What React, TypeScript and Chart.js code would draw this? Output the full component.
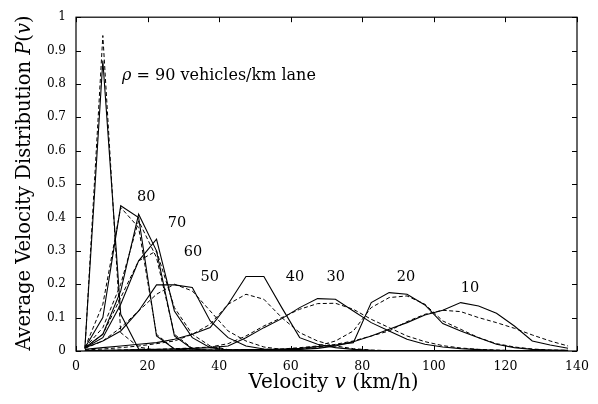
import React, { useEffect, useRef } from "react";
import { Chart, registerables } from "chart.js";

Chart.register(...registerables);

// Velocity bin centres (km/h)
const VELOCITY = [2.5, 7.5, 12.5, 17.5, 22.5, 27.5, 32.5, 37.5, 42.5, 47.5, 52.5, 57.5, 62.5, 67.5,
  72.5, 77.5, 82.5, 87.5, 92.5, 97.5, 102.5, 107.5, 112.5, 117.5, 122.5, 127.5, 132.5, 137.5];

// Solid curves (one per density, vehicles/km lane)
const S90 = [0.012, 0.87, 0.11, 0.006, 0.002, 0.001, 0, 0, 0, 0, 0, 0, 0, 0, 0, 0, 0, 0, 0, 0, 0, 0, 0, 0, 0, 0, 0, 0];
const S80 = [0.01, 0.1, 0.435, 0.4, 0.045, 0.006, 0.001, 0, 0, 0, 0, 0, 0, 0, 0, 0, 0, 0, 0, 0, 0, 0, 0, 0, 0, 0, 0, 0];
const S70 = [0.01, 0.05, 0.18, 0.41, 0.3, 0.045, 0.006, 0.001, 0, 0, 0, 0, 0, 0, 0, 0, 0, 0, 0, 0, 0, 0, 0, 0, 0, 0, 0, 0];
const S60 = [0.01, 0.04, 0.14, 0.27, 0.335, 0.12, 0.04, 0.01, 0.003, 0.001, 0, 0, 0, 0, 0, 0, 0, 0, 0, 0, 0, 0, 0, 0, 0, 0, 0, 0];
const S50 = [0.01, 0.03, 0.06, 0.12, 0.198, 0.198, 0.19, 0.09, 0.04, 0.015, 0.006, 0.002, 0.001, 0, 0, 0, 0, 0, 0, 0, 0, 0, 0, 0, 0, 0, 0, 0];
const S40 = [0.005, 0.01, 0.015, 0.02, 0.025, 0.035, 0.05, 0.07, 0.14, 0.223, 0.223, 0.13, 0.04, 0.02, 0.01, 0.005, 0.002, 0.001, 0, 0, 0, 0, 0, 0, 0, 0, 0, 0];
const S30 = [0.001, 0.002, 0.003, 0.004, 0.005, 0.006, 0.008, 0.01, 0.015, 0.04, 0.07, 0.097, 0.13, 0.157, 0.155, 0.12, 0.085, 0.06, 0.035, 0.02, 0.012, 0.007, 0.004, 0.002, 0.001, 0, 0, 0];
const S20 = [0.001, 0.001, 0.001, 0.002, 0.002, 0.002, 0.003, 0.003, 0.003, 0.004, 0.004, 0.006, 0.008, 0.013, 0.018, 0.025, 0.145, 0.175, 0.17, 0.138, 0.082, 0.06, 0.04, 0.02, 0.01, 0.005, 0.003, 0.002];
const S10 = [0.001, 0.001, 0.001, 0.001, 0.001, 0.002, 0.002, 0.002, 0.002, 0.003, 0.003, 0.004, 0.005, 0.008, 0.015, 0.028, 0.045, 0.065, 0.085, 0.108, 0.122, 0.145, 0.135, 0.113, 0.075, 0.03, 0.018, 0.008];

// Dashed curves
const D90 = [0.006, 0.945, 0.055, 0.012, 0.002, 0.001, 0, 0, 0, 0, 0, 0, 0, 0, 0, 0, 0, 0, 0, 0, 0, 0, 0, 0, 0, 0, 0, 0];
const D80 = [0.01, 0.14, 0.43, 0.37, 0.05, 0.006, 0.001, 0, 0, 0, 0, 0, 0, 0, 0, 0, 0, 0, 0, 0, 0, 0, 0, 0, 0, 0, 0, 0];
const D70 = [0.01, 0.07, 0.2, 0.39, 0.28, 0.05, 0.008, 0.001, 0, 0, 0, 0, 0, 0, 0, 0, 0, 0, 0, 0, 0, 0, 0, 0, 0, 0, 0, 0];
const D60 = [0.01, 0.05, 0.16, 0.27, 0.3, 0.13, 0.05, 0.015, 0.004, 0.001, 0, 0, 0, 0, 0, 0, 0, 0, 0, 0, 0, 0, 0, 0, 0, 0, 0, 0];
const D50 = [0.008, 0.03, 0.07, 0.12, 0.17, 0.2, 0.18, 0.12, 0.06, 0.03, 0.012, 0.005, 0.002, 0.001, 0, 0, 0, 0, 0, 0, 0, 0, 0, 0, 0, 0, 0, 0];
const D40 = [0.003, 0.006, 0.01, 0.015, 0.022, 0.03, 0.05, 0.08, 0.14, 0.17, 0.155, 0.1, 0.055, 0.03, 0.015, 0.007, 0.003, 0.001, 0, 0, 0, 0, 0, 0, 0, 0, 0, 0];
const D30 = [0.001, 0.002, 0.003, 0.004, 0.005, 0.007, 0.009, 0.012, 0.022, 0.045, 0.075, 0.1, 0.125, 0.142, 0.143, 0.125, 0.095, 0.07, 0.045, 0.028, 0.016, 0.009, 0.005, 0.003, 0.001, 0, 0, 0];
const D20 = [0.001, 0.001, 0.002, 0.002, 0.002, 0.003, 0.003, 0.003, 0.004, 0.004, 0.005, 0.006, 0.01, 0.015, 0.03, 0.06, 0.13, 0.16, 0.165, 0.14, 0.09, 0.065, 0.04, 0.022, 0.012, 0.006, 0.003, 0.002];
const D10 = [0.001, 0.001, 0.001, 0.001, 0.002, 0.002, 0.002, 0.002, 0.003, 0.003, 0.003, 0.004, 0.006, 0.01, 0.02, 0.03, 0.045, 0.06, 0.088, 0.11, 0.122, 0.118, 0.1, 0.085, 0.068, 0.048, 0.03, 0.015];

const SOLID_SERIES = [S90, S80, S70, S60, S50, S40, S30, S20, S10];
const DASHED_SERIES = [D90, D80, D70, D60, D50, D40, D30, D20, D10];
const DENSITIES = ["90", "80", "70", "60", "50", "40", "30", "20", "10"];

// Curve labels (text + data-coordinate anchor)
const LABEL_TEXT = ["80", "70", "60", "50", "40", "30", "20", "10"];
const LABEL_V = [19.6, 28.2, 32.7, 37.4, 61.2, 72.6, 92.2, 110.1];
const LABEL_P = [0.46, 0.383, 0.297, 0.22, 0.22, 0.22, 0.22, 0.187];

const X_TICKS = [0, 20, 40, 60, 80, 100, 120, 140];
const Y_TICKS = [0, 0.1, 0.2, 0.3, 0.4, 0.5, 0.6, 0.7, 0.8, 0.9, 1];

const SERIF = "'DejaVu Serif', serif";

function drawMixed(ctx: CanvasRenderingContext2D, parts: [string, boolean][], size: number, cx: number, cy: number, align: "center" | "left") {
  const fontOf = (it: boolean) => `${it ? "italic " : ""}${size}px ${SERIF}`;
  let total = 0;
  const widths = parts.map(([t, it]) => {
    ctx.font = fontOf(it);
    const w = ctx.measureText(t).width;
    total += w;
    return w;
  });
  let x = align === "center" ? cx - total / 2 : cx;
  ctx.textAlign = "left";
  ctx.textBaseline = "middle";
  parts.forEach(([t, it], i) => {
    ctx.font = fontOf(it);
    ctx.fillText(t, x, cy);
    x += widths[i];
  });
}

const decorPlugin = {
  id: "decor",
  afterDatasetsDraw(chart: any) {
    const { ctx, chartArea: a, scales } = chart;
    const xs = scales.x;
    const ys = scales.y;
    ctx.save();
    ctx.strokeStyle = "#000";
    ctx.fillStyle = "#000";
    ctx.lineWidth = 1.2;
    ctx.strokeRect(a.left, a.top, a.right - a.left, a.bottom - a.top);
    const tl = 5;
    ctx.lineWidth = 1;
    ctx.beginPath();
    X_TICKS.forEach((t) => {
      const px = Math.round(xs.getPixelForValue(t)) + 0.5;
      ctx.moveTo(px, a.bottom);
      ctx.lineTo(px, a.bottom - tl);
      ctx.moveTo(px, a.top);
      ctx.lineTo(px, a.top + tl);
    });
    Y_TICKS.forEach((t) => {
      const py = Math.round(ys.getPixelForValue(t)) + 0.5;
      ctx.moveTo(a.left, py);
      ctx.lineTo(a.left + tl, py);
      ctx.moveTo(a.right, py);
      ctx.lineTo(a.right - tl, py);
    });
    ctx.stroke();

    // curve labels
    ctx.font = `14.5px ${SERIF}`;
    ctx.textAlign = "center";
    ctx.textBaseline = "middle";
    LABEL_TEXT.forEach((t, i) => {
      ctx.fillText(t, xs.getPixelForValue(LABEL_V[i]), ys.getPixelForValue(LABEL_P[i]));
    });

    // annotation
    drawMixed(ctx, [["ρ", true], [" = 90 vehicles/km lane", false]], 16,
      xs.getPixelForValue(12.85), ys.getPixelForValue(0.825), "left");

    // axis titles
    drawMixed(ctx, [["Velocity ", false], ["v", true], [" (km/h)", false]], 20,
      (a.left + a.right) / 2 + 7, 383, "center");
    ctx.save();
    ctx.translate(25, (a.top + a.bottom) / 2 - 1);
    ctx.rotate(-Math.PI / 2);
    drawMixed(ctx, [["Average Velocity Distribution ", false], ["P", true], ["(", false], ["v", true], [")", false]], 19.5,
      0, 0, "center");
    ctx.restore();
    ctx.restore();
  },
};

export default function App() {
  const ref = useRef<HTMLCanvasElement | null>(null);
  useEffect(() => {
    if (!ref.current) return;
    const datasets: any[] = [];
    SOLID_SERIES.forEach((s, i) => {
      datasets.push({
        label: `${DENSITIES[i]} solid`,
        data: VELOCITY.map((v, j) => ({ x: v, y: s[j] })),
        borderColor: "#000",
        borderWidth: 1.1,
        pointRadius: 0,
        tension: 0,
        fill: false,
      });
    });
    DASHED_SERIES.forEach((s, i) => {
      datasets.push({
        label: `${DENSITIES[i]} dashed`,
        data: VELOCITY.map((v, j) => ({ x: v, y: s[j] })),
        borderColor: "#000",
        borderWidth: 1,
        borderDash: [4, 2.5],
        pointRadius: 0,
        tension: 0,
        fill: false,
      });
    });
    const chart = new Chart(ref.current, {
      type: "line",
      data: { datasets },
      options: {
        animation: false,
        responsive: true,
        maintainAspectRatio: false,
        layout: { padding: { top: 14, right: 21, left: 0, bottom: 0 } },
        plugins: { legend: { display: false }, tooltip: { enabled: false } },
        scales: {
          x: {
            type: "linear",
            min: 0,
            max: 140,
            afterFit: (s: any) => { s.height = 53; },
            afterBuildTicks: (s: any) => { s.ticks = X_TICKS.map((v) => ({ value: v })); },
            grid: { display: false, drawTicks: false },
            border: { display: false },
            ticks: { color: "#000", font: { family: SERIF, size: 12.5 }, padding: 8, maxRotation: 0 },
          },
          y: {
            type: "linear",
            min: 0,
            max: 1,
            afterFit: (s: any) => { s.width = 76; },
            afterBuildTicks: (s: any) => { s.ticks = Y_TICKS.map((v) => ({ value: v })); },
            grid: { display: false, drawTicks: false },
            border: { display: false },
            ticks: {
              color: "#000",
              font: { family: SERIF, size: 12 },
              padding: 10,
              callback: (v: any) => String(Number(Number(v).toFixed(1))),
            },
          },
        },
      },
      plugins: [decorPlugin],
    });
    return () => chart.destroy();
  }, []);
  return (
    <div style={{ position: "absolute", left: 0, top: 0, width: 598, height: 404, background: "#fff" }}>
      <canvas ref={ref} />
    </div>
  );
}
